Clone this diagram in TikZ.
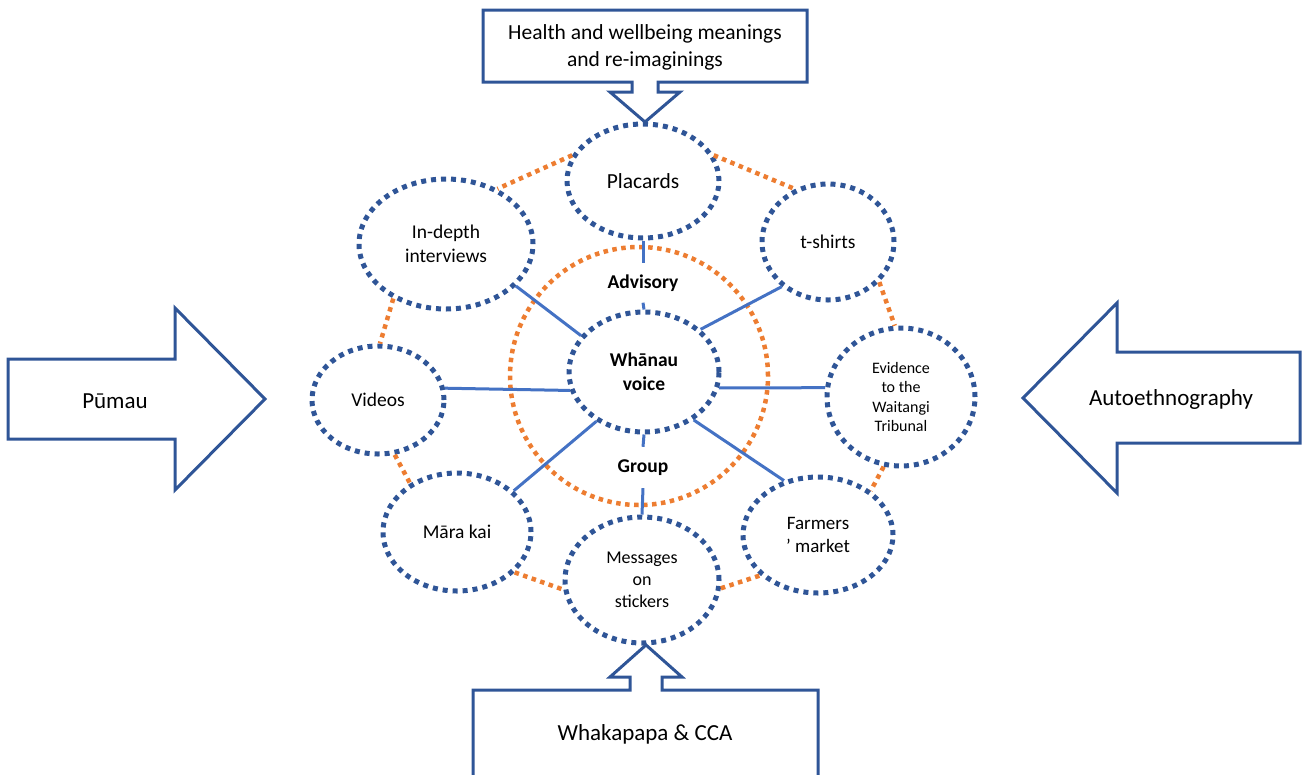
\documentclass[tikz,border=0pt]{standalone}
\usepackage{fontspec}
\setmainfont{Carlito}
\usetikzlibrary{shapes.geometric}
\definecolor{dblue}{HTML}{2F5597}
\definecolor{lblue}{HTML}{4472C4}
\definecolor{orng}{HTML}{ED7D31}
\newcommand{\fs}[1]{\fontsize{#1}{1.22\dimexpr #1pt\relax}\selectfont}
\begin{document}
\begin{tikzpicture}[x=1pt,y=-1pt,
  sat/.style={ellipse, draw=dblue, line width=5pt, dash pattern=on 5pt off 5pt,
    inner sep=0pt, align=center, font=\fs{19.5}},
  link/.style={draw=lblue, line width=3pt},
  olink/.style={draw=orng, line width=4.5pt, dash pattern=on 4.5pt off 4.5pt},
  bigarrow/.style={draw=dblue, line width=3pt, line join=miter},
  lab/.style={inner sep=0pt, align=center}
]
\useasboundingbox (0,0) rectangle (1306,774);
\clip (0,0) rectangle (1306,774);

% satellites
\node[sat, minimum width=152pt, minimum height=114pt, font=\fs{21.5}] (plac) at (643,181) {Placards};
\node[sat, minimum width=174pt, minimum height=130pt] (ind) at (446,244) {In-depth\\interviews};
\node[sat, minimum width=132pt, minimum height=116pt] (tsh) at (828,242) {t-shirts};
\node[sat, minimum width=132pt, minimum height=108pt] (vid) at (378,400) {Videos};
\node[sat, minimum width=148pt, minimum height=138pt, font=\fs{16}] (evi) at (901,397) {Evidence\\to the\\Waitangi\\Tribunal};
\node[sat, minimum width=148pt, minimum height=118pt] (mara) at (457,532) {Māra kai};
\node[sat, minimum width=154pt, minimum height=126pt, font=\fs{18}] (msg) at (642,580) {Messages\\on\\stickers};
\node[sat, minimum width=150pt, minimum height=116pt, font=\fs{19}] (farm) at (818,535) {Farmers\\’ market};
% centre
\node[circle, draw=orng, line width=4.5pt, dash pattern=on 4.5pt off 4.5pt, minimum size=258pt, inner sep=0pt] (ring) at (639,376) {};
\node[sat, minimum width=150pt, minimum height=120pt, font=\fs{19.5}\bfseries] (wv) at (644,372) {Whānau\\voice};
\node[lab, font=\fs{19.5}\bfseries, minimum height=39pt] (adv) at (643,283) {Advisory};
\node[lab, font=\fs{19.5}\bfseries, minimum height=41pt] (grp) at (643,467.5) {Group};

% orange links
\draw[olink] (plac.160) -- (ind.47);
\draw[olink] (plac.20) -- (tsh.122);
\draw[olink] (ind.226) -- (vid.88);
\draw[olink] (vid.-73) -- (mara.134);
\draw[olink] (mara.-35) -- (msg.187);
\draw[olink] (msg.-6) -- (farm.215);
\draw[olink] (tsh.-38) -- (evi.95);
\draw[olink] (evi.-104) -- (farm.40);

% blue links
\draw[link] (plac.south) -- (adv.north);
\draw[link] (adv.south) -- (wv.north);
\draw[link] (wv.south) -- (grp.north);
\draw[link] (grp.south) -- (msg.north);
\draw[link] (ind.-31) -- (wv.150);
\draw[link] (tsh.224) -- (wv.37);
\draw[link] (vid.10) -- (wv.194);
\draw[link] (wv.-12) -- (evi.173);
\draw[link] (mara.36) -- (wv.226);
\draw[link] (farm.122) -- (wv.-44);

% top callout
\draw[bigarrow] (483,10) -- (807,10) -- (807,82) -- (658,82) -- (658,92) -- (680,92)
  -- (645,122) -- (610,92) -- (632,92) -- (632,82) -- (483,82) -- cycle;
\node[lab, font=\fontsize{21.5}{27}\selectfont] (hw) at (645,47) {Health and wellbeing meanings\\and re-imaginings};

% bottom callout
\draw[bigarrow] (473,790) -- (473,690) -- (630,690) -- (630,677) -- (610,677) -- (646,645)
  -- (682,677) -- (662,677) -- (662,690) -- (818,690) -- (818,790) -- cycle;
\node[lab, font=\fs{23}] (wk) at (645,734) {Whakapapa \& CCA};

% left arrow
\draw[bigarrow] (8,359) -- (175,359) -- (175,308) -- (265,399) -- (175,490) -- (175,439) -- (8,439) -- cycle;
\node[lab, font=\fs{23}] (pu) at (115,401) {Pūmau};

% right arrow
\draw[bigarrow] (1023,398) -- (1117,303) -- (1117,352) -- (1300,352) -- (1300,443) -- (1117,443) -- (1117,493) -- cycle;
\node[lab, font=\fs{23}] (au) at (1171,399) {Autoethnography};
\end{tikzpicture}
\end{document}
